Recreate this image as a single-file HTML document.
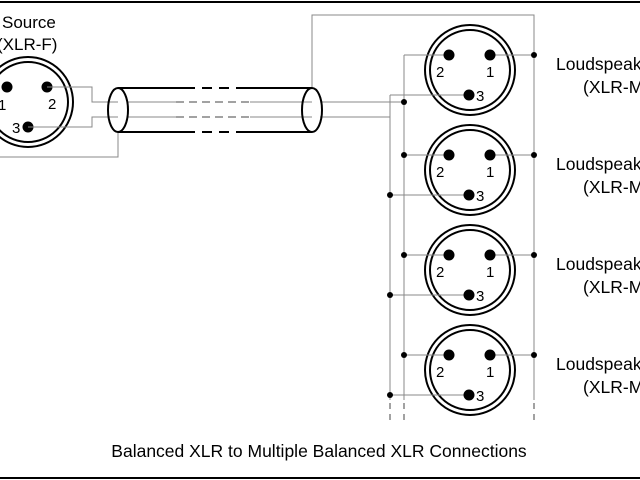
<!DOCTYPE html>
<html><head><style>html,body{margin:0;padding:0;background:#fff;}svg{display:block}</style></head>
<body>
<svg width="640" height="480" viewBox="0 0 640 480" xmlns="http://www.w3.org/2000/svg" font-family="Liberation Sans, sans-serif">
<line x1="0" y1="2" x2="640" y2="2" stroke="#000" stroke-width="2"/>
<line x1="0" y1="478" x2="640" y2="478" stroke="#000" stroke-width="2"/>
<text x="2" y="28" font-size="17">Source</text>
<text x="-3" y="50" font-size="17">(XLR-F)</text>
<g fill="none" stroke="#000" stroke-width="2">
<circle cx="28" cy="102" r="45"/><circle cx="28" cy="102" r="40"/>
</g>
<g fill="#000"><circle cx="7" cy="87" r="5.5"/><circle cx="47" cy="87" r="5.5"/><circle cx="28" cy="127" r="5.5"/></g>
<text x="-2" y="110" font-size="15">1</text><text x="48" y="109" font-size="15">2</text><text x="12" y="133" font-size="15">3</text>
<g fill="none" stroke="#888" stroke-width="1">
<polyline points="47,87 92,87 92,102 118,102"/>
<polyline points="28,127 92,127 92,117 118,117"/>
<polyline points="118,132 118,157 0,157"/>
<line x1="128" y1="102" x2="176" y2="102"/><line x1="128" y1="117" x2="176" y2="117"/>
<line x1="250" y1="102" x2="312" y2="102"/><line x1="250" y1="117" x2="312" y2="117"/>
<line x1="176" y1="102" x2="250" y2="102" stroke="#444" stroke-dasharray="8,5"/>
<line x1="176" y1="117" x2="250" y2="117" stroke="#444" stroke-dasharray="8,5"/>
<line x1="320" y1="102" x2="404" y2="102"/>
<polyline points="320,117 390,117"/>
<polyline points="312,88 312,15 534,15 534,400"/>
<line x1="390" y1="95" x2="390" y2="400"/>
<line x1="404" y1="55" x2="404" y2="400"/>
</g>
<g fill="none" stroke="#000" stroke-width="2">
<line x1="118" y1="88" x2="185" y2="88"/><line x1="240" y1="88" x2="312" y2="88"/>
<line x1="118" y1="132" x2="185" y2="132"/><line x1="240" y1="132" x2="312" y2="132"/>
<line x1="185" y1="88" x2="240" y2="88" stroke-dasharray="10,7"/>
<line x1="185" y1="132" x2="240" y2="132" stroke-dasharray="10,7"/>
<ellipse cx="118" cy="110" rx="10" ry="22"/>
<ellipse cx="312" cy="110" rx="10" ry="22"/>
</g>
<g stroke="#444" stroke-width="1" stroke-dasharray="6,5">
<line x1="390" y1="403" x2="390" y2="425"/><line x1="404" y1="403" x2="404" y2="425"/><line x1="534" y1="403" x2="534" y2="425"/>
</g>
<circle cx="404" cy="102" r="3" fill="#000"/>
<g font-size="15">
<g transform="translate(0,0)">
<g fill="none" stroke="#000" stroke-width="2"><circle cx="470" cy="70" r="45"/><circle cx="470" cy="70" r="40"/></g>
<g stroke="#888"><line x1="404" y1="55" x2="449" y2="55"/><line x1="490" y1="55" x2="534" y2="55"/><line x1="390" y1="95" x2="469" y2="95"/></g>
<g fill="#000"><circle cx="449" cy="55" r="5.5"/><circle cx="490" cy="55" r="5.5"/><circle cx="469" cy="95" r="5.5"/><circle cx="534" cy="55" r="3"/></g>
<text x="436" y="77">2</text><text x="486" y="77">1</text><text x="476" y="101">3</text>
</g>
<g transform="translate(0,100)">
<g fill="none" stroke="#000" stroke-width="2"><circle cx="470" cy="70" r="45"/><circle cx="470" cy="70" r="40"/></g>
<g stroke="#888"><line x1="404" y1="55" x2="449" y2="55"/><line x1="490" y1="55" x2="534" y2="55"/><line x1="390" y1="95" x2="469" y2="95"/></g>
<g fill="#000"><circle cx="449" cy="55" r="5.5"/><circle cx="490" cy="55" r="5.5"/><circle cx="469" cy="95" r="5.5"/><circle cx="534" cy="55" r="3"/><circle cx="404" cy="55" r="3"/><circle cx="390" cy="95" r="3"/></g>
<text x="436" y="77">2</text><text x="486" y="77">1</text><text x="476" y="101">3</text>
</g>
<g transform="translate(0,200)">
<g fill="none" stroke="#000" stroke-width="2"><circle cx="470" cy="70" r="45"/><circle cx="470" cy="70" r="40"/></g>
<g stroke="#888"><line x1="404" y1="55" x2="449" y2="55"/><line x1="490" y1="55" x2="534" y2="55"/><line x1="390" y1="95" x2="469" y2="95"/></g>
<g fill="#000"><circle cx="449" cy="55" r="5.5"/><circle cx="490" cy="55" r="5.5"/><circle cx="469" cy="95" r="5.5"/><circle cx="534" cy="55" r="3"/><circle cx="404" cy="55" r="3"/><circle cx="390" cy="95" r="3"/></g>
<text x="436" y="77">2</text><text x="486" y="77">1</text><text x="476" y="101">3</text>
</g>
<g transform="translate(0,300)">
<g fill="none" stroke="#000" stroke-width="2"><circle cx="470" cy="70" r="45"/><circle cx="470" cy="70" r="40"/></g>
<g stroke="#888"><line x1="404" y1="55" x2="449" y2="55"/><line x1="490" y1="55" x2="534" y2="55"/><line x1="390" y1="95" x2="469" y2="95"/></g>
<g fill="#000"><circle cx="449" cy="55" r="5.5"/><circle cx="490" cy="55" r="5.5"/><circle cx="469" cy="95" r="5.5"/><circle cx="534" cy="55" r="3"/><circle cx="404" cy="55" r="3"/><circle cx="390" cy="95" r="3"/></g>
<text x="436" y="77">2</text><text x="486" y="77">1</text><text x="476" y="101">3</text>
</g>
</g>
<g font-size="17.5">
<text x="556" y="70">Loudspeaker</text><text x="583" y="93">(XLR-M)</text>
<text x="556" y="170">Loudspeaker</text><text x="583" y="193">(XLR-M)</text>
<text x="556" y="270">Loudspeaker</text><text x="583" y="293">(XLR-M)</text>
<text x="556" y="370">Loudspeaker</text><text x="583" y="393">(XLR-M)</text>
<text x="319" y="457" text-anchor="middle">Balanced XLR to Multiple Balanced XLR Connections</text>
</g>
</svg>
</body></html>
